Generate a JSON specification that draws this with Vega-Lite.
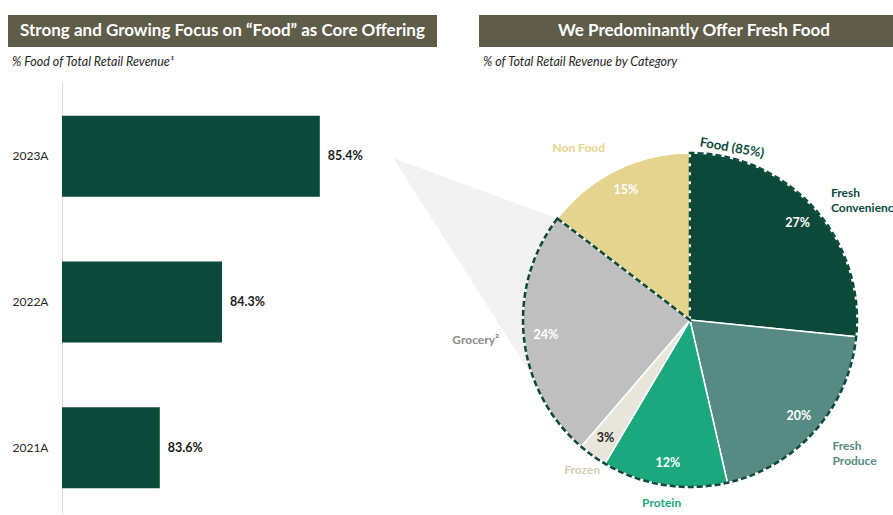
{
  "$schema": "https://vega.github.io/schema/vega-lite/v6.json",
  "padding": {"left": 8, "top": 15, "right": 0, "bottom": 0},
  "background": "white",
  "config": {"font": "Lato", "view": {"stroke": null}},
  "spacing": 13,
  "vconcat": [
    {
      "spacing": 42,
      "hconcat": [
        {
          "width": 429,
          "height": 32,
          "view": {"fill": "#5f5c4a", "stroke": null},
          "title": {"text": "% Food of Total Retail Revenue¹", "orient": "bottom", "anchor": "start", "fontSize": 12.5, "fontStyle": "italic", "fontWeight": "normal", "color": "#262626", "offset": 9, "dx": 4},
          "data": {"values": [{"heading": "Strong and Growing Focus on “Food” as Core Offering"}]},
          "mark": {"type": "text", "color": "white", "fontSize": 17, "fontWeight": "bold", "align": "center", "baseline": "middle"},
          "encoding": {"text": {"field": "heading", "type": "nominal"}}
        },
        {
          "width": 414,
          "height": 32,
          "view": {"fill": "#5f5c4a", "stroke": null},
          "title": {"text": "% of Total Retail Revenue by Category", "orient": "bottom", "anchor": "start", "fontSize": 12.5, "fontStyle": "italic", "fontWeight": "normal", "color": "#262626", "offset": 9, "dx": 4},
          "data": {"values": [{"heading": "We Predominantly Offer Fresh Food"}]},
          "mark": {"type": "text", "color": "white", "fontSize": 17, "fontWeight": "bold", "align": "center", "baseline": "middle", "dx": 8},
          "encoding": {"text": {"field": "heading", "type": "nominal"}}
        }
      ]
    },
    {
      "width": 885,
      "height": 432,
      "layer": [
        {
          "data": {"values": [
            {"year": "2023A", "food_share": 0.854},
            {"year": "2022A", "food_share": 0.843},
            {"year": "2021A", "food_share": 0.836}
          ]},
          "encoding": {
            "y": {"field": "year", "type": "nominal", "sort": ["2023A", "2022A", "2021A"],
                  "scale": {"paddingInner": 0.444, "paddingOuter": 0.2035, "align": 0.568},
                  "axis": {"title": null, "ticks": false, "labelPadding": 14, "offset": -54, "domainColor": "#d9d9d9", "domainWidth": 1, "labelFontSize": 12, "labelColor": "#262626", "grid": false}},
            "x": {"field": "food_share", "type": "quantitative", "scale": {"domain": [0.818926, 0.918476], "nice": false, "zero": false}, "axis": null}
          },
          "layer": [
            {"mark": {"type": "bar", "color": "#0b4a3b"}, "encoding": {"x2": {"datum": 0.825}}},
            {"mark": {"type": "text", "align": "left", "baseline": "middle", "dx": 8, "fontSize": 12.5, "fontWeight": "bold", "color": "#1a1a1a"},
             "encoding": {"text": {"field": "food_share", "type": "quantitative", "format": ".1%"}}}
          ]
        },
        {
          "data": {"values": [
            {"category": "Fresh Convenience", "label": "Fresh\nConvenience", "share": 0.266, "seq": 1},
            {"category": "Fresh Produce", "label": "Fresh\nProduce", "share": 0.198, "seq": 2},
            {"category": "Protein", "label": "Protein", "share": 0.121, "seq": 3},
            {"category": "Frozen", "label": "Frozen", "share": 0.028, "seq": 4},
            {"category": "Grocery", "label": "Grocery²", "share": 0.241, "seq": 5},
            {"category": "Non Food", "label": "Non Food", "share": 0.146, "seq": 6}
          ]},
          "encoding": {
            "x": {"datum": 0, "type": "quantitative", "scale": {"domain": [-4.0838, 1.2156], "nice": false, "zero": false}, "axis": null},
            "y": {"datum": 0, "type": "quantitative", "scale": {"domain": [-1.1617, 1.4251], "nice": false, "zero": false}, "axis": null}
          },
          "layer": [
            {
              "data": {"values": [{"connector": "2023A to food"}]},
              "mark": {"type": "arc", "theta": 1.924, "theta2": 2.574, "innerRadius": 0, "outerRadius": 300, "color": "#f2f2f2"},
              "encoding": {"x": {"datum": -1.778, "type": "quantitative"}, "y": {"datum": 0.970, "type": "quantitative"}}
            },
            {
              "mark": {"type": "arc", "outerRadius": 167, "stroke": "white", "strokeWidth": 1.5},
              "encoding": {
                "theta": {"field": "share", "type": "quantitative", "stack": true},
                "order": {"field": "seq", "type": "quantitative"},
                "color": {"field": "category", "type": "nominal", "legend": null,
                  "scale": {"domain": ["Fresh Convenience", "Fresh Produce", "Protein", "Frozen", "Grocery", "Non Food"],
                            "range": ["#0b4a3b", "#568a82", "#1ba87f", "#e8e6da", "#bfbfbf", "#e5d48e"]}}
              }
            },
            {
              "data": {"values": [
                {"group": "Food", "share": 0.854, "seq": 1},
                {"group": "Non Food", "share": 0.146, "seq": 2}
              ]},
              "mark": {"type": "arc", "outerRadius": 167, "filled": false, "color": "#0b4a3b", "strokeWidth": 2.5, "strokeDash": [6, 3]},
              "encoding": {
                "theta": {"field": "share", "type": "quantitative", "stack": true},
                "order": {"field": "seq", "type": "quantitative"},
                "detail": {"field": "group", "type": "nominal"},
                "strokeOpacity": {"condition": {"test": "datum.group == 'Food'", "value": 1}, "value": 0}
              }
            },
            {
              "mark": {"type": "text", "radius": 145, "fontSize": 12.5, "fontWeight": "bold", "align": "center", "baseline": "middle"},
              "encoding": {
                "theta": {"field": "share", "type": "quantitative", "stack": true},
                "order": {"field": "seq", "type": "quantitative"},
                "detail": {"field": "category", "type": "nominal"},
                "text": {"field": "share", "type": "quantitative", "format": ".0%"},
                "color": {"condition": {"test": "datum.category == 'Frozen'", "value": "#262626"}, "value": "white"}
              }
            },
            {
              "mark": {"type": "text", "radius": 190, "fontSize": 12, "fontWeight": "bold", "align": "left", "baseline": "middle", "lineBreak": "\n", "lineHeight": 15, "clip": true},
              "encoding": {
                "theta": {"field": "share", "type": "quantitative", "stack": true},
                "order": {"field": "seq", "type": "quantitative"},
                "text": {"field": "label", "type": "nominal"},
                "color": {"field": "category", "type": "nominal", "legend": null},
                "opacity": {"condition": {"test": "datum.category == 'Fresh Convenience' || datum.category == 'Fresh Produce'", "value": 1}, "value": 0}
              }
            },
            {
              "mark": {"type": "text", "radius": 185, "fontSize": 12, "fontWeight": "bold", "align": "center", "baseline": "middle", "lineBreak": "\n", "lineHeight": 15, "clip": true},
              "encoding": {
                "theta": {"field": "share", "type": "quantitative", "stack": true},
                "order": {"field": "seq", "type": "quantitative"},
                "text": {"field": "label", "type": "nominal"},
                "color": {"condition": {"test": "datum.category == 'Frozen'", "value": "#d6cfb4"}, "field": "category", "type": "nominal", "legend": null},
                "opacity": {"condition": {"test": "datum.category == 'Protein' || datum.category == 'Frozen'", "value": 1}, "value": 0}
              }
            },
            {
              "mark": {"type": "text", "radius": 192, "fontSize": 12, "fontWeight": "bold", "align": "right", "baseline": "middle", "lineBreak": "\n", "lineHeight": 15, "clip": true},
              "encoding": {
                "theta": {"field": "share", "type": "quantitative", "stack": true},
                "order": {"field": "seq", "type": "quantitative"},
                "text": {"field": "label", "type": "nominal"},
                "color": {"condition": {"test": "datum.category == 'Grocery'", "value": "#8c8c8c"}, "field": "category", "type": "nominal", "legend": null},
                "opacity": {"condition": {"test": "datum.category == 'Grocery' || datum.category == 'Non Food'", "value": 1}, "value": 0}
              }
            },
            {
              "data": {"values": [{"label": "Food (85%)"}]},
              "mark": {"type": "text", "angle": 10, "fontSize": 13, "fontWeight": "bold", "color": "#0b4a3b", "align": "center", "baseline": "middle"},
              "encoding": {
                "x": {"datum": 0.251, "type": "quantitative"},
                "y": {"datum": 1.03, "type": "quantitative"},
                "text": {"field": "label", "type": "nominal"}
              }
            }
          ]
        }
      ],
      "resolve": {"scale": {"x": "independent", "y": "independent"}}
    }
  ]
}
